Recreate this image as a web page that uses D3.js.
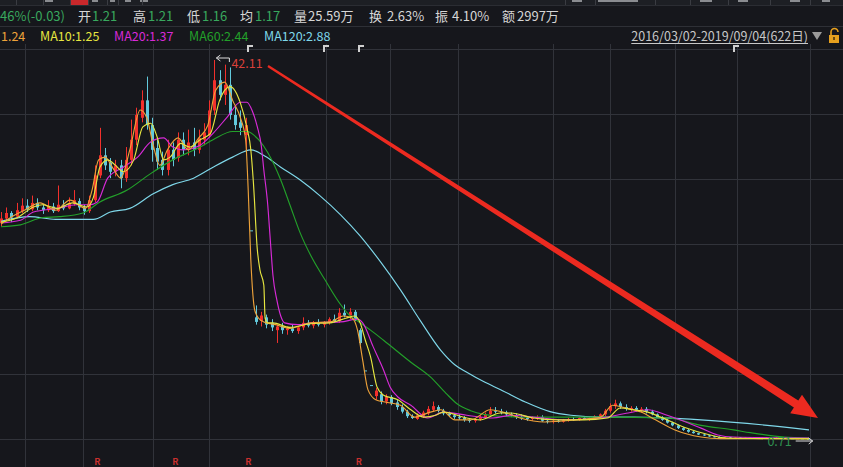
<!DOCTYPE html>
<html><head><meta charset="utf-8">
<script src="https://cdn.jsdelivr.net/npm/d3@7"></script>
<style>
html,body{margin:0;padding:0;background:#16171c;overflow:hidden}
svg{display:block}
text{font-family:"Noto Sans CJK SC","Noto Sans",sans-serif}
</style></head><body>
<svg id="c" width="843" height="467"></svg>
<script>
// ---------- data ----------
const changeText = "46%(-0.03)";
const quoteLabels = ["开","高","低","均","量","换","振","额"];
const quoteValues = ["1.21","1.21","1.16","1.17","25.59万","2.63%","4.10%","2997万"];
const maNames = ["MA5","MA10","MA20","MA60","MA120"];
const maLast = ["1.24","1.25","1.37","2.44","2.88"];
const rangeText = "2016/03/02-2019/09/04(622日)";
const totalDays = 622;
const candleStep = 4; // one candle drawn per 4 trading days
// [open, high, low, close]
const candles = [
[24.3,25.5,23.9,24.8],[24.8,26.0,24.6,25.4],[25.4,25.6,24.4,24.9],[25.0,26.5,24.8,25.7],[25.6,27.0,25.4,26.2],
[26.2,26.9,25.5,25.8],[25.8,27.3,25.6,26.5],[26.5,27.0,25.7,26.0],[26.0,26.4,25.3,25.7],[25.7,26.8,25.5,26.1],
[26.1,26.5,25.4,25.6],[25.6,28.4,25.5,26.3],[26.3,26.8,25.7,25.9],[25.9,27.1,25.8,26.5],[26.4,27.9,26.2,26.8],
[26.7,27.0,25.7,26.0],[26.0,26.3,25.2,25.6],[25.6,27.3,25.4,26.8],[26.8,30.6,26.6,29.5],[29.5,34.7,29.2,31.7],
[31.7,32.5,30.1,30.6],[30.9,31.4,29.2,29.9],[29.9,31.2,29.4,30.6],[30.6,31.2,28.1,29.2],[29.2,32.6,28.8,31.2],
[31.2,35.6,30.6,33.4],[33.4,36.9,32.8,36.1],[35.8,38.8,35.3,37.7],[37.7,40.3,34.5,35.0],[35.0,35.8,31.0,32.3],
[32.5,33.4,30.1,31.0],[31.2,32.1,29.5,30.1],[30.1,33.4,29.5,32.3],[32.3,33.1,30.5,31.2],[31.4,34.2,31.0,33.4],
[33.4,34.2,31.7,32.3],[32.3,34.5,31.7,33.1],[33.1,34.7,31.6,32.3],[32.3,34.5,31.9,33.6],[33.4,35.2,32.8,34.2],
[33.9,37.7,33.6,36.6],[36.6,42.11,36.1,39.9],[39.9,41.0,37.7,38.3],[38.3,41.6,37.2,39.4],[39.4,41.3,35.6,36.1],
[36.1,37.2,34.5,35.0],[35.3,36.6,33.9,34.7],[33.9,35.8,31.7,35.0],[23.5,23.5,23.5,23.5],[14.0,15.3,13.2,13.5],
[13.6,14.6,13.0,14.2],[14.0,14.3,12.8,13.2],[13.4,13.8,12.5,12.9],[12.6,13.2,11.2,13.0],[13.0,13.4,12.2,12.6],
[12.6,13.0,12.1,12.8],[12.8,13.2,12.3,12.5],[12.5,13.0,12.2,12.9],[12.9,14.0,12.6,13.4],[13.4,13.7,12.9,13.1],
[13.1,13.6,12.8,13.4],[13.4,13.8,13.0,13.2],[13.2,13.6,12.9,13.5],[13.5,14.0,13.2,13.8],[13.8,14.3,13.4,13.6],
[13.6,15.0,13.4,14.5],[14.5,15.4,14.0,14.2],[14.2,15.0,13.8,14.6],[14.6,14.8,13.6,13.8],[12.6,12.8,11.0,11.2],
[8.2,8.2,8.2,8.2],[6.6,6.6,6.6,6.6],[5.4,6.3,5.0,6.0],[5.6,5.9,4.5,4.8],[4.8,5.6,4.5,5.3],
[5.3,5.5,4.4,4.6],[4.7,5.0,3.9,4.2],[4.2,4.5,3.5,3.7],[3.7,3.9,3.0,3.2],[3.2,3.4,2.9,3.0],
[2.9,3.5,2.8,3.3],[3.2,3.8,3.0,3.6],[3.5,4.3,3.3,4.0],[3.9,4.8,3.7,4.3],[4.2,4.4,3.6,3.8],
[3.8,4.0,3.3,3.5],[3.5,3.7,3.1,3.3],[3.3,3.5,2.9,3.1],[3.1,3.4,2.8,3.0],[3.0,3.2,2.6,2.8],
[2.8,3.0,2.5,2.7],[2.7,3.0,2.5,2.9],[2.9,3.3,2.7,3.1],[3.1,3.6,2.9,3.4],[3.4,4.2,3.2,3.8],
[3.8,4.2,3.5,3.7],[3.7,4.0,3.4,3.6],[3.6,3.8,3.2,3.4],[3.4,3.6,3.1,3.3],[3.3,3.5,2.9,3.1],
[3.1,3.4,2.8,3.0],[3.0,3.2,2.7,2.9],[2.9,3.2,2.7,3.0],[3.0,3.3,2.8,3.1],[3.1,3.3,2.6,2.7],
[2.7,2.9,2.4,2.6],[2.6,2.8,2.4,2.7],[2.7,2.9,2.5,2.6],[2.6,2.9,2.5,2.8],[2.8,3.0,2.6,2.9],
[2.9,3.1,2.7,2.8],[2.8,3.1,2.7,3.0],[3.0,3.2,2.8,2.9],[2.9,3.1,2.7,3.0],[3.0,3.3,2.8,3.2],
[3.2,3.5,3.0,3.4],[3.4,4.0,3.2,3.8],[3.8,4.6,3.6,4.3],[4.3,5.0,4.0,4.6],[4.6,4.8,4.0,4.2],
[4.2,4.5,3.8,4.0],[4.0,4.3,3.7,4.1],[4.1,4.3,3.7,3.9],[3.9,4.2,3.6,4.0],[4.0,4.2,3.5,3.7],
[3.7,3.9,3.3,3.4],[3.4,3.5,3.0,3.1],[3.1,3.2,2.7,2.8],[2.8,2.9,2.4,2.5],[2.5,2.6,2.1,2.2],
[2.2,2.3,1.8,1.9],[1.9,2.0,1.6,1.7],[1.7,1.8,1.4,1.5],[1.5,1.6,1.3,1.35],[1.35,1.4,1.15,1.2],
[1.2,1.25,1.05,1.1],[1.1,1.15,0.95,1.0],[1.0,1.05,0.88,0.92],[0.92,0.98,0.84,0.88],[0.86,0.92,0.8,0.88],
[0.88,0.93,0.8,0.84],[0.84,0.9,0.8,0.87],[0.87,0.9,0.8,0.82],[0.82,0.88,0.78,0.85],[0.85,0.9,0.8,0.83],
[0.83,0.88,0.78,0.8],[0.8,0.86,0.77,0.84],[0.84,0.88,0.78,0.8],[0.8,0.85,0.76,0.82],[0.82,0.86,0.78,0.8],
[0.8,0.84,0.75,0.78],[0.78,0.83,0.75,0.8],[0.8,0.84,0.75,0.77],[0.77,0.81,0.74,0.78],[0.78,0.81,0.73,0.75],
[0.75,0.79,0.71,0.74]
];
// moving averages: [day, value]
const ma5 = [[0,24.2],[11,25.2],[18,25.7],[30,26.5],[42,25.7],[53,26.8],[65,25.9],[70,27.9],[75,31.2],[80,31.5],[86,30.3],[92,29.2],[99,32.3],[107,36.65],[112,35.8],[117,32.8],[122,30.6],[128,32.3],[136,33.6],[144,32.3],[152,33.6],[159,35.0],[165,38.8],[172,39.7],[178,37.7],[184,35.8],[188,33.4],[190,27.9],[192,20.3],[195,14.8],[198,13.9],[202,13.5],[211,13.2],[222,12.8],[238,13.4],[253,13.5],[263,14.15],[270,13.9],[274,12.6],[278,9.3],[282,6.1],[288,5.0],[295,4.75],[307,4.4],[318,3.1],[330,3.65],[338,3.9],[349,2.8],[361,2.8],[376,3.9],[388,3.55],[399,3.0],[418,2.57],[442,2.8],[461,3.1],[470,4.4],[480,4.1],[492,3.65],[503,2.8],[518,1.7],[538,0.93],[553,0.75],[621,0.75]];
const ma10 = [[0,24.4],[12,24.85],[25,26.05],[32,26.3],[43,25.9],[55,26.5],[66,26.05],[71,27.1],[76,30.4],[82,31.2],[88,30.6],[94,29.9],[102,31.2],[109,34.8],[115,35.2],[120,33.7],[125,31.2],[130,31.5],[138,33.0],[145,32.6],[153,33.4],[161,34.1],[168,37.7],[176,39.2],[184,37.4],[189,34.7],[192,32.3],[194,28.7],[197,21.4],[199,19.2],[202,17.5],[203,13.9],[205,13.4],[209,13.4],[222,12.9],[238,13.3],[253,13.4],[265,13.9],[272,14.15],[276,13.4],[280,11.5],[284,9.7],[289,6.4],[294,5.5],[305,5.0],[315,3.9],[325,3.1],[334,3.3],[340,3.65],[358,3.0],[368,2.8],[384,3.55],[392,3.55],[409,3.0],[428,2.8],[448,2.8],[466,3.0],[476,4.1],[486,3.9],[497,3.65],[507,3.1],[525,2.0],[545,1.15],[558,0.82],[621,0.72]];
const ma20 = [[0,24.3],[15,24.6],[25,25.5],[43,25.9],[58,26.3],[68,26.3],[74,26.6],[82,29.2],[94,30.4],[105,31.5],[115,33.15],[125,33.6],[132,32.6],[140,32.3],[153,32.8],[163,34.1],[174,35.9],[184,37.5],[189,37.5],[193,36.6],[197,34.8],[200,32.8],[202,30.1],[205,26.3],[207,22.4],[209,18.6],[212,15.9],[215,14.15],[218,13.4],[228,13.2],[240,13.4],[261,13.5],[274,13.8],[278,13.4],[286,10.8],[294,8.25],[299,6.4],[305,5.3],[315,4.4],[328,3.0],[340,3.65],[358,3.3],[378,3.0],[392,3.3],[409,3.1],[435,2.8],[461,3.0],[482,3.55],[497,3.9],[512,3.3],[538,1.9],[551,1.15],[563,0.93],[621,0.82]];
const ma60 = [[0,23.9],[15,24.1],[32,24.9],[45,25.0],[63,25.4],[76,26.6],[97,27.9],[115,29.7],[132,31.2],[153,32.6],[163,33.4],[178,34.3],[189,34.3],[198,33.4],[205,32.0],[215,29.0],[222,26.3],[230,23.2],[239,20.5],[249,18.1],[261,15.4],[268,14.2],[274,13.6],[284,12.6],[294,11.5],[315,9.1],[330,7.5],[342,5.7],[351,4.5],[361,3.8],[371,3.4],[384,3.2],[409,3.1],[461,3.1],[512,3.0],[538,2.2],[563,1.7],[576,1.4],[602,0.93],[621,0.82]];
const ma120 = [[0,24.5],[22,25.0],[42,24.7],[71,24.7],[84,25.5],[99,25.9],[117,27.5],[132,28.5],[148,29.2],[163,30.4],[178,31.5],[192,32.3],[203,31.6],[215,30.4],[230,29.0],[245,27.3],[261,25.2],[276,22.9],[292,20.0],[307,17.0],[322,13.7],[338,10.4],[349,8.8],[358,8.0],[372,6.9],[384,6.1],[403,4.75],[422,3.7],[438,3.3],[461,3.1],[486,3.1],[538,2.8],[589,2.2],[621,1.7]];
const rDays = [74,134,190,275];          // "R" markers (ex-rights)
const bracketDays = [190,248,275,563];  // small top markers
const gridDays = [18.5,63,117,160,250,299,351,424,468,518,566,621.5];
const gridPrices = [0.71,7.81,14.91,22.01,29.11,36.21,43.31];

// ---------- layout ----------
const W = 843, H = 467;
const C = {bg:"#16171c", grid:"#31333a", up:"#f2302c", down:"#62c9dc",
  ma:["#eda23a","#e6e640","#d72ad7","#23a02a","#7fd8ea"], green:"#39a85e", txt:"#d6d6d6"};
const svg = d3.select("#c");
svg.append("rect").attr("width",W).attr("height",H).attr("fill",C.bg);

const x = d3.scaleLinear().domain([0,totalDays-1]).range([1,809]);
const y = d3.scaleLinear().domain([0.71,42.11]).range([439,60]);

// top strip (tabs)
svg.append("rect").attr("width",W).attr("height",5).attr("fill","#1d1f24");
svg.append("rect").attr("x",71).attr("width",17).attr("height",5).attr("fill","#c8282b");
[[45,8],[92,6],[110,5],[125,6],[140,8],[572,10],[598,40],[700,12],[738,10],[790,10],[822,8]].forEach(d=>{
  svg.append("rect").attr("x",d[0]).attr("y",0).attr("width",d[1]).attr("height",2).attr("fill","#8a8c90");
});
[16,43,70,88,107,118,142,565,595,655,690,728,770,810].forEach(v=>{
  svg.append("line").attr("x1",v+0.5).attr("x2",v+0.5).attr("y1",0).attr("y2",5).attr("stroke","#3a3c42");
});
svg.append("line").attr("x1",0).attr("x2",W).attr("y1",5.5).attr("y2",5.5).attr("stroke","#2b2d33");
svg.append("line").attr("x1",0).attr("x2",W).attr("y1",26.5).attr("y2",26.5).attr("stroke","#2e3036");

// grid
const grid = svg.append("g");
grid.selectAll("line.h").data(gridPrices).join("line")
  .attr("x1",0).attr("x2",W).attr("y1",d=>Math.round(y(d))+0.5).attr("y2",d=>Math.round(y(d))+0.5)
  .attr("stroke",C.grid);
grid.selectAll("line.v").data(gridDays).join("line")
  .attr("x1",d=>Math.round(x(d))+0.5).attr("x2",d=>Math.round(x(d))+0.5).attr("y1",44).attr("y2",H)
  .attr("stroke",C.grid);

// info row
const info = svg.append("g").attr("font-size",13);
info.append("text").attr("x",0).attr("y",21).attr("fill",C.green).text(changeText);
const lx = [78,133,187,240,294,369,435,502], vx = [92,148,202,255,308,387,452,517];
quoteLabels.forEach((t,i)=>{
  info.append("text").attr("x",lx[i]).attr("y",21).attr("fill",C.txt).text(t);
  info.append("text").attr("x",vx[i]).attr("y",21).attr("fill",i<4?C.green:C.txt).text(quoteValues[i]);
});

// legend row (the MA5 name is scrolled off the left edge in the original; only its value shows)
const leg = svg.append("g").attr("font-size",12.5);
const legX = [1,40,114,189,264];
maNames.forEach((n,i)=>{
  leg.append("text").attr("x",legX[i]).attr("y",41)
    .attr("fill",C.ma[i]).text(i===0 ? maLast[i] : n+":"+maLast[i]);
});
const rt = svg.append("text").attr("x",808).attr("y",41).attr("text-anchor","end")
  .attr("font-size",12.5).attr("fill","#c8c8c8").text(rangeText);
const rl = rt.node().getComputedTextLength();
svg.append("line").attr("x1",808-rl).attr("x2",808).attr("y1",43.5).attr("y2",43.5).attr("stroke","#c8c8c8");
svg.append("path").attr("d","M812,32 L822,32 L817,40 Z").attr("fill","#9a9a9a");
svg.append("rect").attr("x",829).attr("y",35).attr("width",10).attr("height",8).attr("fill","#e6a01e");
svg.append("path").attr("d","M831,35 V32 A3.5,3.5 0 0 1 838,32").attr("fill","none").attr("stroke","#e6a01e").attr("stroke-width",1.6);
svg.append("rect").attr("x",833).attr("y",37).attr("width",2).attr("height",3).attr("fill","#6a4a10");

// top bracket markers
svg.selectAll("path.br").data(bracketDays).join("path")
  .attr("d",d=>{const px=Math.round(x(d)); return `M${px},52 V46 H${px+5}`;})
  .attr("fill","none").attr("stroke","#d0d0d0").attr("stroke-width",2);

// candles
const cg = svg.append("g");
const isUp = (d,i)=> d[3]>d[0] || (d[3]===d[0] && i>0 && d[3]>=candles[i-1][3]);
cg.selectAll("line").data(candles).join("line")
  .attr("x1",(d,i)=>Math.round(x(i*candleStep))+0.5).attr("x2",(d,i)=>Math.round(x(i*candleStep))+0.5)
  .attr("y1",d=>y(d[1])).attr("y2",d=>y(d[2]))
  .attr("stroke",(d,i)=>isUp(d,i)?C.up:C.down).attr("stroke-width",1);
cg.selectAll("rect").data(candles).join("rect")
  .attr("x",(d,i)=>Math.round(x(i*candleStep))-1)
  .attr("y",d=>Math.min(y(d[0]),y(d[3])))
  .attr("width",3)
  .attr("height",d=>Math.max(1,Math.abs(y(d[0])-y(d[3]))))
  .attr("fill",(d,i)=>isUp(d,i)?C.up:C.down);

// MA lines
const line = d3.line().x(d=>x(d[0])).y(d=>y(d[1])).curve(d3.curveMonotoneX);
[[ma120,4],[ma60,3],[ma20,2],[ma5,0],[ma10,1]].forEach(([arr,k])=>{
  svg.append("path").datum(arr).attr("d",line).attr("fill","none")
    .attr("stroke",C.ma[k]).attr("stroke-width",1.15);
});

// high / low labels
let hi = 0, lo = 0;
candles.forEach((d,i)=>{ if(d[1]>candles[hi][1]) hi=i; if(d[2]<candles[lo][2]) lo=i; });
const hx = x(hi*candleStep), hy = y(candles[hi][1]) - 2;
svg.append("path").attr("d",`M${hx+2},${hy} H${hx+15} V${hy+4} M${hx+6},${hy-3} L${hx+2},${hy} L${hx+6},${hy+3}`)
  .attr("fill","none").attr("stroke","#dcdcdc").attr("stroke-width",1);
svg.append("text").attr("x",hx+17).attr("y",hy+10).attr("font-size",12.5).attr("fill","#d8403a")
  .text(candles[hi][1].toFixed(2));
const lx2 = x(lo*candleStep), ly = y(candles[lo][2]) + 2;
svg.append("path").attr("d",`M${lx2-12},${ly} H${lx2+5} M${lx2+1},${ly-3} L${lx2+5},${ly} L${lx2+1},${ly+3}`)
  .attr("fill","none").attr("stroke","#dcdcdc").attr("stroke-width",1);
svg.append("text").attr("x",lx2-16).attr("y",ly+5).attr("text-anchor","end").attr("font-size",12.5)
  .attr("fill","#2f8f50").text(candles[lo][2].toFixed(2));

// R markers
svg.selectAll("text.r").data(rDays).join("text")
  .attr("x",d=>x(d)).attr("y",465).attr("text-anchor","middle").attr("font-size",9)
  .attr("font-weight","bold").attr("fill","#c8302e").text("R");

// red arrow annotation
(function(){
  const S=[268,66], T=[818,418];
  const dx=T[0]-S[0], dy=T[1]-S[1], L=Math.hypot(dx,dy);
  const u=[dx/L,dy/L], n=[-u[1],u[0]];
  const hl=26, hw=11, w0=1.2, w1=4;
  const B=[T[0]-hl*u[0], T[1]-hl*u[1]];
  const p=(P,k)=>[P[0]+k*n[0],P[1]+k*n[1]];
  const pts=[p(S,w0),p(B,w1),p(B,hw),T,p(B,-hw),p(B,-w1),p(S,-w0)];
  svg.append("path").attr("d","M"+pts.map(q=>q[0].toFixed(1)+","+q[1].toFixed(1)).join("L")+"Z")
    .attr("fill","#ec2a20");
})();
</script>
</body></html>
